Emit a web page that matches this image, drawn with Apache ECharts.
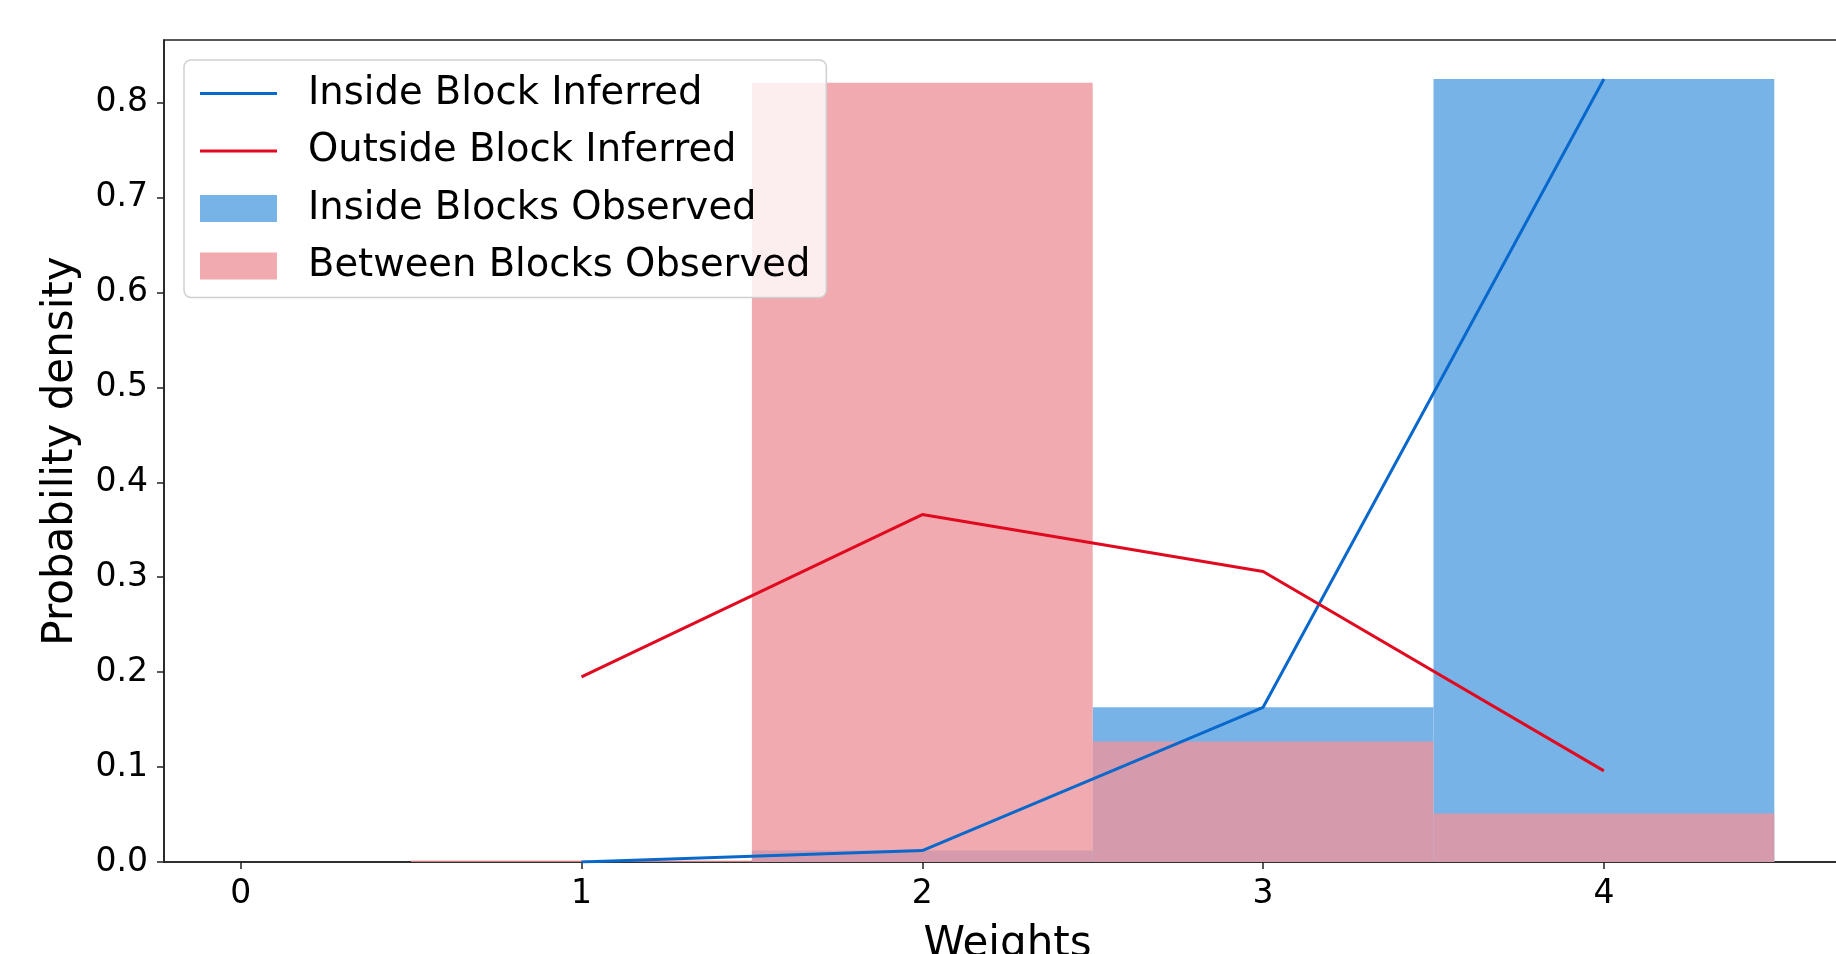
<!DOCTYPE html>
<html>
<head>
<meta charset="utf-8">
<script src="https://cdn.jsdelivr.net/npm/echarts@6/dist/echarts.min.js"></script>
<style>html,body{margin:0;padding:0;background:#fff;}#chart{width:1836px;height:954px;}</style>
</head>
<body>
<div id="chart"></div>
<script>
const xTicks = [0, 1, 2, 3, 4];
const yTicks = [0, 0.1, 0.2, 0.3, 0.4, 0.5, 0.6, 0.7, 0.8];
const lineX = [1, 2, 3, 4];
const insideInferred = [0.0, 0.012, 0.163, 0.825];
const outsideInferred = [0.195, 0.366, 0.306, 0.096];
const binEdges = [0.5, 1.5, 2.5, 3.5, 4.5];
const insideObserved = [0.0, 0.012, 0.163, 0.825];
const betweenObserved = [0.0015, 0.821, 0.127, 0.051];

const FONT = 'DejaVu Sans';
const BLUE_BAR = '#78B3E8';
const PINK_BAR = 'rgba(236,149,156,0.8)';
const BLUE_LINE = '#0868CB';
const RED_LINE = '#E1091F';
const LINE_ICON = 'path://M0,0L77,0L77,3L0,3Z';

function binData(vals) {
  return vals.map((v, i) => [binEdges[i], binEdges[i + 1], v]);
}
function rectRender(color) {
  return function (params, api) {
    const p0 = api.coord([api.value(0), api.value(2)]);
    const p1 = api.coord([api.value(1), 0]);
    return {
      type: 'rect',
      shape: { x: p0[0], y: p0[1], width: p1[0] - p0[0], height: p1[1] - p0[1] },
      style: { fill: color }
    };
  };
}

const chart = echarts.init(document.getElementById('chart'));
chart.setOption({
  animation: false,
  backgroundColor: '#fff',
  textStyle: { fontFamily: FONT },
  grid: {
    left: 164, top: 40, width: 1687, height: 822,
    outerBoundsMode: 'none', containLabel: false,
    show: true, borderColor: '#222', borderWidth: 1.6, backgroundColor: 'transparent'
  },
  xAxis: {
    type: 'value', min: -0.225, max: 4.725,
    name: 'Weights', nameLocation: 'middle', nameGap: 62,
    nameTextStyle: { fontSize: 42, color: '#000', fontFamily: FONT },
    axisLine: { show: true, onZero: false, lineStyle: { color: '#222', width: 1.6 } },
    axisTick: { show: true, length: 7, lineStyle: { color: '#222', width: 1.5 }, customValues: xTicks },
    axisLabel: { fontSize: 33, color: '#000', margin: 16, fontFamily: FONT, customValues: xTicks,
      formatter: v => String(v) },
    splitLine: { show: false }
  },
  yAxis: {
    type: 'value', min: 0, max: 0.866,
    name: 'Probability density', nameLocation: 'middle', nameGap: 82, nameRotate: 90,
    nameTextStyle: { fontSize: 42, color: '#000', fontFamily: FONT },
    axisLine: { show: true, onZero: false, lineStyle: { color: '#222', width: 1.6 } },
    axisTick: { show: true, length: 7, lineStyle: { color: '#222', width: 1.5 }, customValues: yTicks },
    axisLabel: { fontSize: 33, color: '#000', margin: 16, fontFamily: FONT, customValues: yTicks,
      formatter: v => v.toFixed(1) },
    splitLine: { show: false }
  },
  legend: {
    orient: 'vertical', left: 184, top: 60,
    padding: [14, 16, 12, 16],
    itemGap: 18.5,
    itemWidth: 77, itemHeight: 27,
    backgroundColor: 'rgba(255,255,255,0.8)',
    borderColor: '#cfcfcf', borderWidth: 1.5, borderRadius: 7,
    textStyle: { fontSize: 38.5, color: '#000', fontFamily: FONT, padding: [0, 0, 0, 26] },
    z: 20,
    data: [
      { name: 'Inside Block Inferred', icon: LINE_ICON },
      { name: 'Outside Block Inferred', icon: LINE_ICON },
      { name: 'Inside Blocks Observed', icon: 'rect' },
      { name: 'Between Blocks Observed', icon: 'rect' }
    ]
  },
  series: [
    {
      name: 'Inside Blocks Observed', type: 'custom', z: 2,
      renderItem: rectRender(BLUE_BAR),
      itemStyle: { color: BLUE_BAR },
      encode: { x: [0, 1], y: 2 },
      data: binData(insideObserved)
    },
    {
      name: 'Between Blocks Observed', type: 'custom', z: 3,
      renderItem: rectRender(PINK_BAR),
      itemStyle: { color: PINK_BAR },
      encode: { x: [0, 1], y: 2 },
      data: binData(betweenObserved)
    },
    {
      name: 'Inside Block Inferred', type: 'line', z: 5,
      symbol: 'none', lineStyle: { color: BLUE_LINE, width: 3 },
      itemStyle: { color: BLUE_LINE },
      data: lineX.map((x, i) => [x, insideInferred[i]])
    },
    {
      name: 'Outside Block Inferred', type: 'line', z: 5,
      symbol: 'none', lineStyle: { color: RED_LINE, width: 3 },
      itemStyle: { color: RED_LINE },
      data: lineX.map((x, i) => [x, outsideInferred[i]])
    }
  ]
});
</script>
</body>
</html>
